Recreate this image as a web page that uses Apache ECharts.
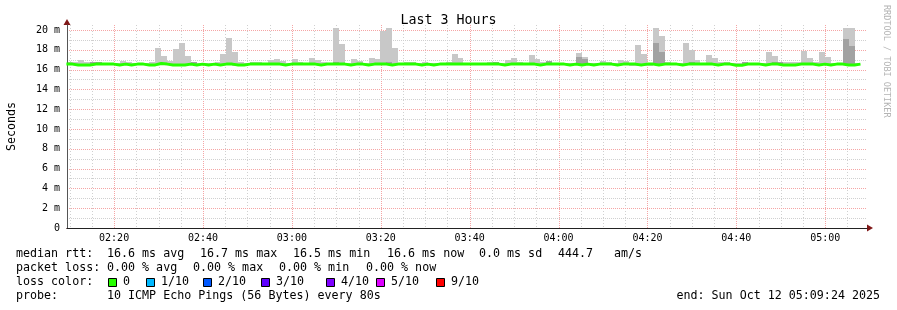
<!DOCTYPE html>
<html><head><meta charset="utf-8">
<script src="https://cdn.jsdelivr.net/npm/echarts@6/dist/echarts.min.js"></script>
<style>html,body{margin:0;padding:0;background:#fff}#c{width:897px;height:310px}</style>
</head><body><div id="c"></div>
<script>
// ---------------- data ----------------
const chartTitle = 'Last 3 Hours';
const yAxisName = 'Seconds';
const startTime = '02:09:24';
const endTime = '05:09:24';
const firstBinStart = '02:09:16';
const binSeconds = 80;
const xTickLabels = ['02:20','02:40','03:00','03:20','03:40','04:00','04:20','04:40','05:00'];
const yTickValues = [0,2,4,6,8,10,12,14,16,18,20];
const yMax = 20.5;

// upper edge of the light smoke (ms), one per 80 s step
const smokeMax = [
  16.75,16.75,17.0,16.8,16.8,16.8,16.65,16.65,16.65,16.9,
  16.8,16.65,16.65,16.7,16.75,18.2,17.4,16.85,18.1,18.7,
  17.4,16.8,16.7,16.7,16.7,16.8,17.6,19.2,17.8,16.75,
  16.7,16.8,16.8,16.7,16.95,17.1,16.9,16.7,17.1,16.8,
  16.7,17.15,16.95,16.8,16.7,20.2,18.6,16.7,17.1,16.9,
  16.7,17.15,17.1,19.9,20.2,18.2,16.7,16.75,16.75,16.7,
  16.75,16.7,16.65,16.7,16.8,17.6,17.15,16.7,16.7,16.7,
  16.7,16.75,16.8,16.7,16.95,17.15,16.8,16.7,17.5,17.05,
  16.75,16.9,16.7,16.7,16.7,16.7,17.7,17.3,16.7,16.65,
  16.9,16.8,16.7,16.95,16.85,16.7,18.5,17.6,16.7,20.2,
  19.4,16.8,16.7,16.7,18.7,18.0,16.95,16.7,17.5,17.15,
  16.75,16.75,16.7,16.7,16.8,16.7,16.7,16.65,17.8,17.4,
  16.8,16.75,16.75,16.75,17.9,17.15,16.8,17.8,17.3,16.7,
  16.7,20.2,20.2,16.7
];
// lower edge of the smoke (ms)
const smokeMin = [
  16.42,16.42,16.42,16.42,16.42,16.42,16.42,16.42,16.42,16.42,
  16.42,16.42,16.42,16.42,16.42,16.42,16.42,16.42,16.42,16.42,
  16.42,16.42,16.42,16.42,16.42,16.42,16.42,16.42,16.33,16.33,
  16.42,16.42,16.42,16.42,16.42,16.42,16.42,16.42,16.42,16.42,
  16.42,16.42,16.42,16.42,16.42,16.42,16.42,16.42,16.42,16.42,
  16.42,16.42,16.42,16.42,16.42,16.42,16.42,16.42,16.42,16.42,
  16.42,16.42,16.42,16.42,16.42,16.42,16.42,16.42,16.42,16.42,
  16.42,16.42,16.42,16.42,16.42,16.42,16.42,16.42,16.42,16.42,
  16.42,16.42,16.42,16.42,16.42,16.42,16.42,16.42,16.42,16.42,
  16.42,16.42,16.42,16.42,16.42,16.35,16.35,16.35,16.35,16.42,
  16.42,16.42,16.42,16.42,16.42,16.42,16.42,16.42,16.42,16.42,
  16.42,16.42,16.42,16.42,16.42,16.42,16.42,16.42,16.42,16.42,
  16.42,16.42,16.42,16.42,16.42,16.42,16.42,16.42,16.42,16.42,
  16.42,16.42,16.42,16.42
];
// upper edge of the darker inner smoke (ms), null where absent
const smokeDark = [
  null,null,null,null,16.78,16.78,null,null,null,null,
  null,null,null,null,null,null,null,null,null,null,
  null,16.75,null,null,null,null,null,null,null,null,
  null,null,null,null,null,null,null,null,null,null,
  null,null,null,null,null,16.72,null,null,null,null,
  null,null,null,null,16.75,null,null,null,null,null,
  null,null,null,null,null,null,null,null,null,null,
  null,null,16.8,null,null,null,null,null,null,null,
  null,16.85,null,null,null,null,17.3,17.05,null,null,
  null,null,null,null,null,null,null,null,null,18.7,
  17.8,null,null,null,null,16.8,null,null,null,null,
  null,null,null,null,16.78,null,null,null,null,16.8,
  16.78,null,null,null,null,null,null,null,null,null,
  null,19.1,18.4,null
];
// median rtt (ms)
const medianRtt = [
  16.55,16.47,16.47,16.47,16.55,16.55,16.55,16.55,16.47,16.55,
  16.47,16.55,16.55,16.47,16.47,16.62,16.55,16.47,16.47,16.47,
  16.55,16.47,16.55,16.47,16.55,16.47,16.55,16.55,16.47,16.47,
  16.55,16.55,16.55,16.55,16.55,16.55,16.47,16.55,16.55,16.55,
  16.55,16.55,16.47,16.55,16.55,16.55,16.55,16.47,16.55,16.55,
  16.47,16.55,16.55,16.55,16.47,16.55,16.55,16.55,16.55,16.47,
  16.55,16.47,16.55,16.55,16.55,16.55,16.55,16.55,16.55,16.55,
  16.55,16.55,16.55,16.47,16.55,16.55,16.55,16.55,16.55,16.47,
  16.55,16.55,16.55,16.55,16.47,16.55,16.47,16.55,16.47,16.55,
  16.55,16.55,16.47,16.55,16.55,16.55,16.47,16.55,16.55,16.47,
  16.55,16.55,16.55,16.47,16.55,16.55,16.55,16.55,16.55,16.47,
  16.55,16.55,16.44,16.44,16.55,16.55,16.55,16.47,16.55,16.55,
  16.47,16.47,16.47,16.55,16.55,16.55,16.47,16.55,16.47,16.55,
  16.55,16.47,16.47,16.55
];

const lossLabels = ['0','1/10','2/10','3/10','4/10','5/10','9/10'];
const lossColors = ['#26ff00','#00b8ff','#0059ff','#5e00ff','#7e00ff','#dd00ff','#ff0000'];
const statsRtt = ['median rtt:','16.6 ms avg','16.7 ms max','16.5 ms min','16.6 ms now','0.0 ms sd','444.7','am/s'];
const statsLoss = ['packet loss:','0.00 % avg','0.00 % max','0.00 % min','0.00 % now'];
const lossTitle = 'loss color:';
const probeLine = ['probe:','10 ICMP Echo Pings (56 Bytes) every 80s'];
const endLine = 'end: Sun Oct 12 05:09:24 2025';
const watermark = 'RRDTOOL / TOBI OETIKER';

// ---------------- build ----------------
const MONO = 'DejaVu Sans Mono';
const toMin = s => { const p = s.split(':').map(Number); return p[0]*60 + p[1] + (p[2]||0)/60; };
const fmtMin = m => { const h = Math.floor(m/60 + 1e-9), mm = Math.round(m - h*60); return String(h).padStart(2,'0') + ':' + String(mm).padStart(2,'0'); };
const xMin = toMin(startTime), xMax = toMin(endTime);
const bin0 = toMin(firstBinStart), binMin = binSeconds/60;
const binStarts = smokeMax.map((_, i) => bin0 + i*binMin);
const lightData = smokeMax.map((v,i) => [binStarts[i], binStarts[i]+binMin, smokeMin[i], v]);
const darkData = smokeDark.map((v,i) => v == null ? null : [binStarts[i], binStarts[i]+binMin, medianRtt[i], v]).filter(Boolean);
const medianData = medianRtt.map((v,i) => [binStarts[i], v]);
medianData.push([binStarts[binStarts.length-1] + binMin, medianRtt[medianRtt.length-1]]);
const xTickValues = xTickLabels.map(toMin);

// grid line positions
const vGrid = [];
for (let m = Math.ceil(xMin/5)*5; m < xMax; m += 5) vGrid.push([m, m % 20 === 0 ? 1 : 0]);
const hGrid = [];
for (let v = 1; v <= 20; v++) hGrid.push([xMin, v, v % 2 === 0 ? 1 : 0]);

const MAJ = '#f5a5a5', MINC = '#d0d0d0';

function rectRender(color) {
  return function (params, api) {
    const a = api.coord([api.value(0), api.value(3)]);
    const b = api.coord([api.value(1), api.value(2)]);
    const cs = params.coordSys;
    const x0 = Math.round(a[0]), x1 = Math.round(b[0]);
    const y0 = Math.round(a[1]), y1 = Math.round(b[1]);
    const r = echarts.graphic.clipRectByRect({x: x0, y: y0, width: x1 - x0, height: y1 - y0},
      {x: cs.x, y: cs.y, width: cs.width, height: cs.height});
    return r && {type: 'rect', shape: r, style: {fill: color}};
  };
}
function vGridRender(params, api) {
  const cs = params.coordSys;
  const x = Math.round(api.coord([api.value(0), 0])[0]) + 0.5;
  const major = api.value(1) === 1;
  return {type: 'line', silent: true, shape: {x1: x, y1: cs.y, x2: x, y2: cs.y + cs.height},
    style: {stroke: major ? MAJ : MINC, lineWidth: 1, lineDash: major ? [1, 1] : [1, 2]}};
}
function hGridRender(params, api) {
  const cs = params.coordSys;
  const y = Math.round(api.coord([xMin, api.value(1)])[1]) + 0.5;
  return {type: 'line', silent: true, shape: {x1: cs.x, y1: y, x2: cs.x + cs.width, y2: y},
    style: {stroke: api.value(2) === 1 ? MAJ : MINC, lineWidth: 1, lineDash: [1, 1]}};
}

const graphics = [];
const txt = (x, y, s, extra) => graphics.push(Object.assign({type: 'text', x, y, silent: true,
  style: {text: s, fill: '#000', font: '11.66px "' + MONO + '"', textVerticalAlign: 'middle', textAlign: 'left'}}, extra || {}));
const rttX = [16, 107, 200, 293, 387, 479, 558, 614];
statsRtt.forEach((s, i) => txt(rttX[i], 254, s));
const lossX = [16, 107, 193, 279, 366];
statsLoss.forEach((s, i) => txt(lossX[i], 268, s));
txt(16, 282, lossTitle);
const sqX = [108, 146, 203, 261, 326, 376, 436];
lossLabels.forEach((s, i) => {
  graphics.push({type: 'rect', silent: true, shape: {x: sqX[i] + 0.5, y: 278.5, width: 8, height: 8},
    style: {fill: lossColors[i], stroke: '#000', lineWidth: 1}});
  txt(sqX[i] + 15, 282, s);
});
txt(16, 296, probeLine[0]);
txt(107, 296, probeLine[1]);
graphics.push({type: 'text', x: 880, y: 296, silent: true,
  style: {text: endLine, fill: '#000', font: '11.66px "' + MONO + '"', textVerticalAlign: 'middle', textAlign: 'right'}});
graphics.push({type: 'text', x: 886, y: 5, rotation: -Math.PI / 2, silent: true,
  style: {text: watermark, fill: '#b4b4b4', font: '8.5px "' + MONO + '"', textVerticalAlign: 'middle', textAlign: 'left'}});

const chart = echarts.init(document.getElementById('c'), null, {renderer: 'canvas'});
chart.setOption({
  animation: false,
  backgroundColor: '#ffffff',
  title: {text: chartTitle, left: 'center', top: 9,
    textStyle: {fontFamily: MONO, fontSize: 13.3, fontWeight: 'normal', color: '#000'}},
  grid: {left: 67, right: 30, top: 25, bottom: 82, containLabel: false, outerBoundsMode: 'none'},
  xAxis: [
    {type: 'value', min: xMin, max: xMax, position: 'bottom', z: 1,
      axisLine: {show: true, lineStyle: {color: '#801818', width: 1}, symbol: ['none', 'triangle'], symbolSize: [7, 6], symbolOffset: [0, 3]},
      axisLabel: {show: false}, axisTick: {show: false}, splitLine: {show: false}},
    {type: 'value', min: xMin, max: xMax, position: 'bottom', z: 3,
      axisLine: {show: true, lineStyle: {color: '#222', width: 1}},
      axisTick: {show: false},
      axisLabel: {customValues: xTickValues, formatter: v => fmtMin(v), margin: 5,
        fontFamily: MONO, fontSize: 10, color: '#000'},
      splitLine: {show: false}}
  ],
  yAxis: [
    {type: 'value', min: 0, max: yMax, position: 'left', z: 1,
      axisLine: {show: true, lineStyle: {color: '#801818', width: 1}, symbol: ['none', 'triangle'], symbolSize: [7, 6], symbolOffset: [0, 3]},
      axisLabel: {show: false}, axisTick: {show: false}, splitLine: {show: false}},
    {type: 'value', min: 0, max: yMax, interval: 2, position: 'left', z: 3,
      name: yAxisName, nameLocation: 'middle', nameGap: 49, nameRotate: 90,
      nameTextStyle: {fontFamily: MONO, fontSize: 11.66, color: '#000'},
      axisLine: {show: true, lineStyle: {color: '#555', width: 1}},
      axisTick: {show: false},
      axisLabel: {customValues: yTickValues, formatter: v => v === 0 ? '0' : v + ' m', margin: 7,
        fontFamily: MONO, fontSize: 10, color: '#000'},
      splitLine: {show: false}}
  ],
  graphic: graphics,
  series: [
    {type: 'custom', name: 'vgrid', xAxisIndex: 1, yAxisIndex: 1, z: 1, silent: true,
      renderItem: vGridRender, encode: {x: 0, y: 1}, data: vGrid},
    {type: 'custom', name: 'hgrid', xAxisIndex: 1, yAxisIndex: 1, z: 1, silent: true,
      renderItem: hGridRender, encode: {x: 0, y: 1}, data: hGrid},
    {type: 'custom', name: 'smoke', xAxisIndex: 1, yAxisIndex: 1, z: 2, silent: true,
      renderItem: rectRender('#c8c8c8'), encode: {x: [0, 1], y: [2, 3]}, data: lightData},
    {type: 'custom', name: 'smokeDark', xAxisIndex: 1, yAxisIndex: 1, z: 2, silent: true,
      renderItem: rectRender('#a2a2a2'), encode: {x: [0, 1], y: [2, 3]}, data: darkData},
    {type: 'line', name: 'median rtt', xAxisIndex: 1, yAxisIndex: 1, z: 3, silent: true,
      step: 'end', symbol: 'none', data: medianData,
      lineStyle: {color: '#26ff00', width: 3}}
  ]
});
</script></body></html>
